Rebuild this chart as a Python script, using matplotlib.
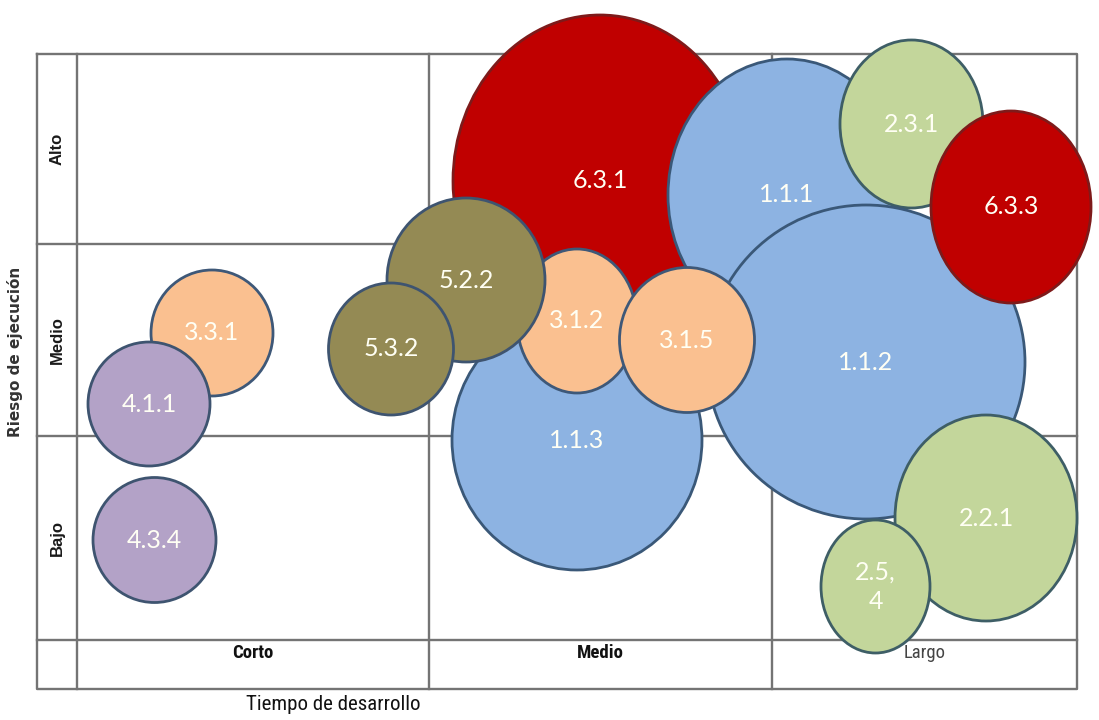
import matplotlib
matplotlib.use("Agg")
import matplotlib.pyplot as plt
from matplotlib.patches import Ellipse
from matplotlib import font_manager


def pick_font(*names):
    available = {f.name for f in font_manager.fontManager.ttflist}
    for name in names:
        if name in available:
            return name
    return "DejaVu Sans"


NARROW = pick_font("Liberation Sans Narrow", "DejaVu Sans Condensed", "Roboto Condensed", "Liberation Sans")
BODY = pick_font("Lato", "Open Sans", "DejaVu Sans")
PLAIN = pick_font("Liberation Sans", "DejaVu Sans")

# Action codes, in drawing order (back to front)
codes = ["6.3.1", "1.1.1", "2.3.1", "1.1.2", "6.3.3", "2.2.1", "2.5,\n4", "1.1.3",
         "3.1.2", "3.1.5", "5.2.2", "5.3.2", "3.3.1", "4.1.1", "4.3.4"]
# Bubble centres on the time / risk matrix (chart units, y grows downward)
time_pos = [600, 787, 911.5, 866, 1011, 986, 875.5, 577,
            577, 687, 466, 391, 212, 149, 154.5]
risk_pos = [181, 195, 124, 362, 207, 518, 586.5, 440,
            321, 340, 280, 349, 333, 404, 540]
# Bubble half-widths and half-heights
half_w = [147, 119, 71.5, 159, 80, 91, 54.5, 125,
          60, 67.5, 79, 62.5, 61, 61, 61.5]
half_h = [166, 136, 84, 157, 96, 103, 66.5, 130,
          72, 72.5, 82, 66, 63, 62, 62.5]
# Strategic axis of each action (first digit of the code)
axis_group = [6, 1, 2, 1, 6, 2, 2, 1, 3, 3, 5, 5, 3, 4, 4]

group_fill = {1: "#8DB3E2", 2: "#C3D69B", 3: "#FAC090",
              4: "#B3A2C7", 5: "#948A54", 6: "#C00000"}
group_edge = {1: "#3A5878", 2: "#3E5E66", 3: "#3E5878",
              4: "#3E5470", 5: "#3E5470", 6: "#7E1A1A"}

time_labels = ["Corto", "Medio", "Largo"]
risk_labels = ["Alto", "Medio", "Bajo"]

# Matrix layout (chart units)
left, label_col, right = 37, 77, 1077
top, bottom = 54, 689
col_edges = [77, 429, 772, 1077]
row_edges = [54, 244, 436, 640]

fig = plt.figure(figsize=(10.99, 7.20), dpi=100)
ax = fig.add_axes([0, 0, 1, 1])
ax.set_xlim(0, 1099)
ax.set_ylim(720, 0)
ax.axis("off")

grid_kw = dict(color="#747474", lw=1.7, zorder=1, solid_capstyle="projecting")
# outer frame
ax.plot([left, right, right, left, left], [top, top, bottom, bottom, top], **grid_kw)
# column separators
for x in col_edges[:-1]:
    ax.plot([x, x], [top, bottom], **grid_kw)
# row separators
for y in row_edges[1:]:
    ax.plot([left, right], [y, y], **grid_kw)

# bubbles
for i, code in enumerate(codes):
    g = axis_group[i]
    e = Ellipse((time_pos[i], risk_pos[i]), 2 * half_w[i], 2 * half_h[i],
                facecolor=group_fill[g], edgecolor=group_edge[g], lw=2.0,
                zorder=10 + i)
    ax.add_patch(e)
    ax.text(time_pos[i], risk_pos[i], code, ha="center", va="center",
            fontsize=18, color="#FFFFF4", family=BODY, linespacing=1.35,
            zorder=40)

# column headings (time)
for j, lab in enumerate(time_labels):
    cx = (col_edges[j] + col_edges[j + 1]) / 2
    weight = "normal" if lab == "Largo" else "bold"
    color = "#444444" if lab == "Largo" else "#111111"
    ax.text(cx, 653, lab, ha="center", va="center", fontsize=13.5,
            family=NARROW, weight=weight, color=color, zorder=50)

# row headings (risk)
for j, lab in enumerate(risk_labels):
    cy = (row_edges[j] + row_edges[j + 1]) / 2
    ax.text((left + label_col) / 2, cy, lab, ha="center", va="center",
            rotation=90, fontsize=12, weight="bold", family=PLAIN,
            color="#1a1a1a", zorder=50)

ax.text(15, 352, "Riesgo de ejecución", ha="center", va="center", rotation=90,
        fontsize=11, family="DejaVu Sans", weight="bold", color="#333333")
ax.text(333, 705, "Tiempo de desarrollo", ha="center", va="center",
        fontsize=15, family=NARROW, color="#111111")

fig.savefig("out.png", dpi=100, facecolor="white")
